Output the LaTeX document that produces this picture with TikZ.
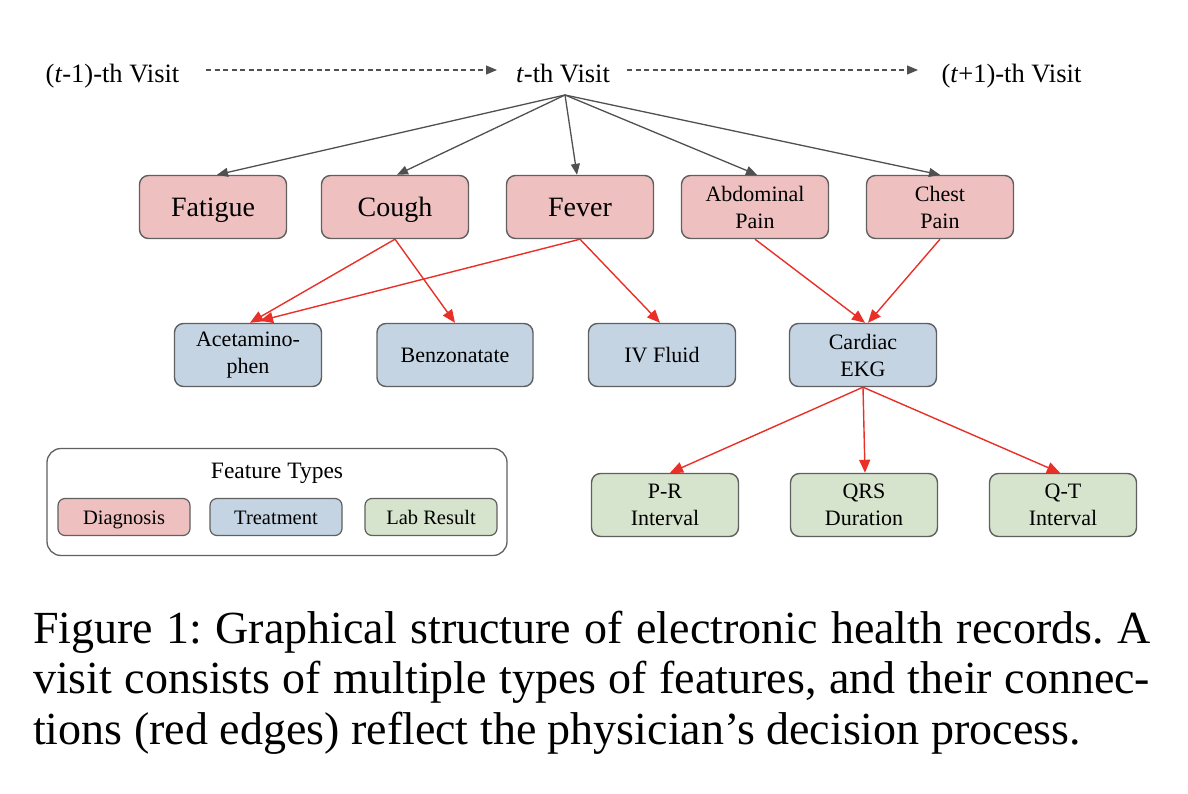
\documentclass[tikz,border=0pt]{standalone}
\usepackage{fontspec}
\setmainfont{Liberation Serif}
\usetikzlibrary{arrows.meta,calc}
\definecolor{diagc}{RGB}{239,192,192}
\definecolor{treatc}{RGB}{197,212,227}
\definecolor{labc}{RGB}{215,228,205}
\definecolor{edgec}{RGB}{96,96,96}
\definecolor{redc}{RGB}{232,48,40}
\definecolor{grayarr}{RGB}{80,80,80}
\tikzset{
  feat/.style={draw=edgec, line width=1.4pt, rounded corners=9pt, minimum width=147pt, minimum height=63pt, align=center, inner sep=2pt},
  diag/.style={feat, fill=diagc},
  treat/.style={feat, fill=treatc},
  lab/.style={feat, fill=labc},
  big/.style={font=\fontsize{28}{30}\selectfont, text height=25pt, text depth=5pt},
  small/.style={font=\fontsize{22}{27}\selectfont},
  legitem/.style={draw=edgec, line width=1.2pt, rounded corners=7pt, minimum height=37pt, inner sep=0pt, font=\fontsize{20.5}{24}\selectfont, text height=18pt, text depth=4pt},
  visit/.style={font=\fontsize{26.5}{28}\selectfont, inner sep=0pt, anchor=base},
  garrow/.style={draw=grayarr, line width=1.3pt, -{Triangle[length=11pt,width=9pt]}},
  rarrow/.style={draw=redc, line width=1.4pt, -{Triangle[length=13pt,width=11pt]}},
  darrow/.style={draw=grayarr, line width=1.1pt, dash pattern=on 5pt off 3.5pt, -{Triangle[length=11pt,width=9pt]}}
}
\begin{document}
\begin{tikzpicture}[x=1pt,y=-1pt]
\useasboundingbox (0,0) rectangle (1188,794);
% visits
\node[visit] (vprev) at (112.5,83) {(\textit{t}-1)-th Visit};
\node[visit] (vcur) at (563,83) {\textit{t}-th Visit};
\node[visit] (vnext) at (1011.5,83) {(\textit{t}+1)-th Visit};
\coordinate (d1s) at (206,70);
\coordinate (d1e) at (497,70);
\coordinate (d2s) at (627,70);
\coordinate (d2e) at (918,70);
\draw[darrow] (d1s) -- (d1e);
\draw[darrow] (d2s) -- (d2e);
\coordinate (root) at (565,95);
% diagnosis row
\node[diag,big] (fat) at (213,207) {Fatigue};
\node[diag,big] (cough) at (395,207) {Cough};
\node[diag,big] (fever) at (580,207) {Fever};
\node[diag,small] (abd) at (755,207) {Abdominal\\Pain};
\node[diag,small] (chest) at (940,207) {Chest\\Pain};
% treatment row
\node[treat,small] (acet) at (248,355) {Acetamino-\\phen};
\node[treat,small,minimum width=156pt] (benz) at (455,355) {Benzonatate};
\node[treat,small] (iv) at (662,355) {IV Fluid};
\node[treat,small] (ekg) at (863,355) {Cardiac\\EKG};
% lab row
\node[lab,small] (pr) at (665,505) {P-R\\Interval};
\node[lab,small] (qrs) at (864,505) {QRS\\Duration};
\node[lab,small] (qt) at (1063,505) {Q-T\\Interval};
% gray arrows
\draw[garrow] (root) -- ($(fat.north)+(4,0)$);
\draw[garrow] (root) -- ($(cough.north)+(2,0)$);
\draw[garrow] (root) -- ($(fever.north)+(-3,0)$);
\draw[garrow] (root) -- ($(abd.north)+(2,0)$);
\draw[garrow] (root) -- (chest.north);
% red arrows
\draw[rarrow] (cough.south) -- ($(acet.north)+(2,0)$);
\draw[rarrow] (cough.south) -- (benz.north);
\draw[rarrow] (fever.south) -- ($(acet.north)+(12,-2)$);
\draw[rarrow] (fever.south) -- ($(iv.north)+(-2,0)$);
\draw[rarrow] (abd.south) -- ($(ekg.north)+(2,0)$);
\draw[rarrow] (chest.south) -- ($(ekg.north)+(5,0)$);
\draw[rarrow] (ekg.south) -- ($(pr.north)+(5,0)$);
\draw[rarrow] (ekg.south) -- ($(qrs.north)+(1,0)$);
\draw[rarrow] (ekg.south) -- ($(qt.north)+(-3,0)$);
% legend
\node[draw=edgec, line width=1.3pt, rounded corners=14pt, minimum width=460pt, minimum height=107pt, inner sep=0pt] (legend) at (277,502) {};
\node[font=\fontsize{23.5}{26}\selectfont, inner sep=0pt, anchor=base] (legtitle) at (277,478) {Feature Types};
\node[legitem, fill=diagc, minimum width=132pt] (lgd) at (124,517) {Diagnosis};
\node[legitem, fill=treatc, minimum width=132pt] (lgt) at (276,517) {Treatment};
\node[legitem, fill=labc, minimum width=132pt] (lgl) at (431,517) {Lab Result};
% caption
\node[anchor=base west, text width=1117pt, align=justify, inner sep=0pt, font=\fontsize{46}{50.5}\selectfont\frenchspacing] (cap) at (33,643) {Figure 1: Graphical structure of electronic health records. A\linebreak visit consists of multiple types of features, and their connec-\linebreak tions (red edges) reflect the physician’s decision process.};
\end{tikzpicture}
\end{document}
